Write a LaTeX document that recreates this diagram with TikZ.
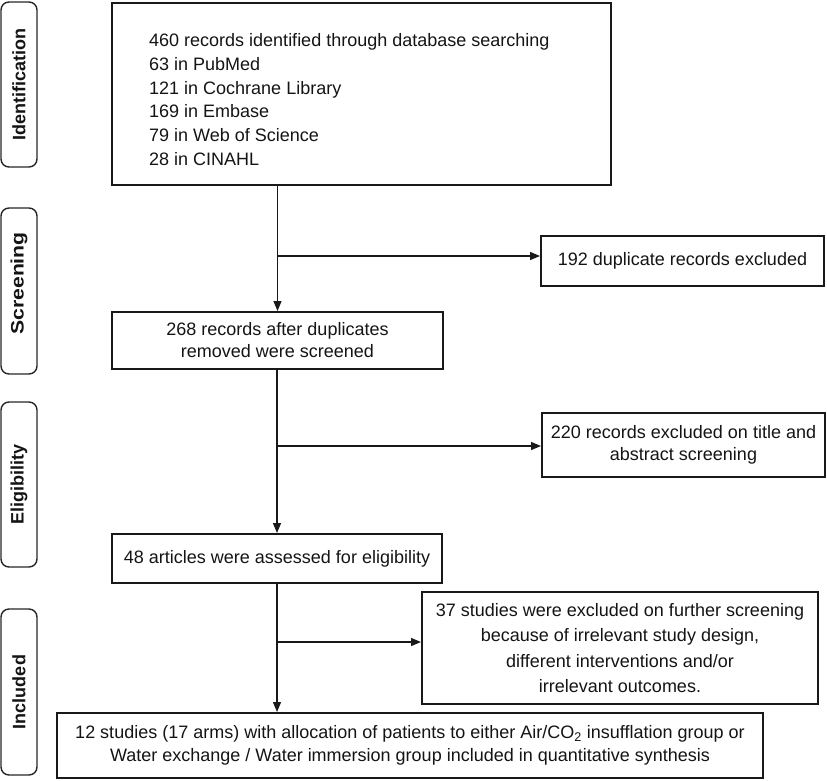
\documentclass[tikz,border=0pt]{standalone}
\usepackage{fontspec}
\setmainfont{Liberation Sans}
\usetikzlibrary{arrows.meta,calc}
\begin{document}
\begin{tikzpicture}[x=1pt,y=-1pt,
  every node/.style={inner sep=0pt, text=black!92},
  txt/.style={font=\fontsize{18}{22}\selectfont},
  flowbox/.style={draw=black!90, line width=2pt, align=center, txt},
  phase/.style={draw=black!85, line width=1.4pt, rounded corners=8pt,
    minimum height=36pt, rotate=90, font=\bfseries\fontsize{18}{22}\selectfont},
  arr/.style={draw=black!90, line width=1.3pt, -{Triangle[length=10pt,width=8pt]}},
]
\useasboundingbox (0,0) rectangle (827,780);

% phase labels
\node[phase, minimum width=165pt] (pid) at (19,84.5) {Identification};
\node[phase, minimum width=166pt] (pscr) at (19,291) {\hspace*{15pt}\scalebox{1.18}[1]{Screening}};
\node[phase, minimum width=165pt] (pel) at (19,484.5) {Eligibility};
\node[phase, minimum width=166pt] (pinc) at (19,692) {Included};

% boxes
\node[flowbox, minimum width=499pt, minimum height=182pt] (ident) at (361.5,94) {};
\node[anchor=west, align=left, font=\fontsize{18}{23.8}\selectfont] (identtext) at (149,99.5)
  {460 records identified through database searching\\
   63 in PubMed\\
   121 in Cochrane Library\\
   169 in Embase\\
   79 in Web of Science\\
   28 in CINAHL};

\node[flowbox, minimum width=331pt, minimum height=57pt] (scr) at (277.5,340.5)
  {268 records after duplicates\\removed were screened};
\node[flowbox, minimum width=283pt, minimum height=50pt] (dup) at (682.5,261)
  {192 duplicate records excluded};

\node[flowbox, minimum width=330pt, minimum height=49pt] (elig) at (277,558.5)
  {48 articles were assessed for eligibility};
\node[flowbox, minimum width=283pt, minimum height=64pt] (excl) at (683.5,445)
  {220 records excluded on title and\\abstract screening};

\node[flowbox, minimum width=396pt, minimum height=112pt,
  font=\fontsize{18}{25.3}\selectfont] (further) at (620,648)
  {37 studies were excluded on further screening\\
   because of irrelevant study design,\\
   different interventions and/or\\
   irrelevant outcomes.};
\node[flowbox, minimum width=706pt, minimum height=65pt,
  font=\fontsize{18}{23}\selectfont] (incl) at (410,745.5)
  {12 studies (17 arms) with allocation of patients to either Air/CO\textsubscript{2} insufflation group or\\
   Water exchange / Water immersion group included in quantitative synthesis};

% connectors
\draw[arr] (scr.north |- ident.south) -- (scr.north);
\coordinate (b1) at (277.5,256);
\draw[arr] (b1) -- (b1 -| dup.west);

\draw[arr] (elig.north |- scr.south) -- (elig.north);
\coordinate (b2) at (277.5,446);
\draw[arr] (b2) -- (b2 -| excl.west);

\draw[arr] (elig.south) -- (elig.south |- incl.north);
\coordinate (b3) at (277,642);
\draw[arr] (b3) -- (b3 -| further.west);
\end{tikzpicture}
\end{document}
